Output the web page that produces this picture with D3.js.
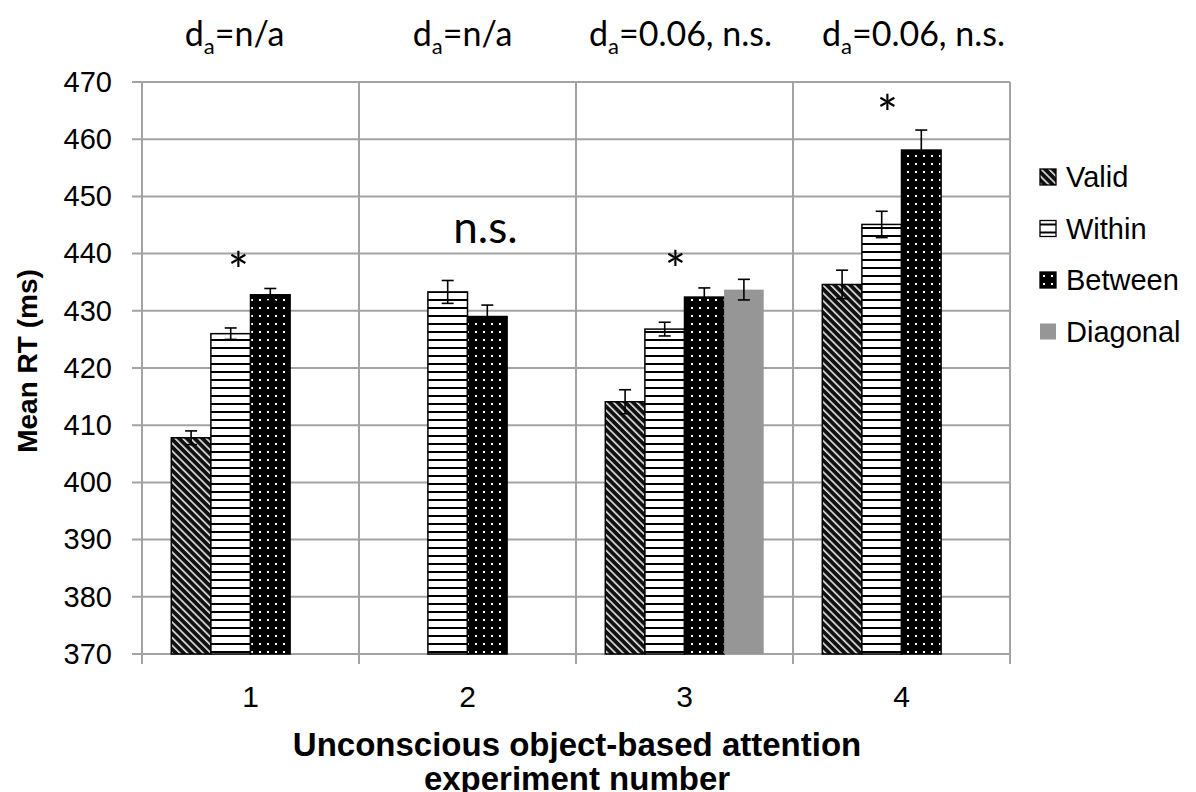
<!DOCTYPE html>
<html>
<head>
<meta charset="utf-8">
<script src="https://cdn.jsdelivr.net/npm/d3@7"></script>
<style>
  html, body { margin: 0; padding: 0; background: #fff; }
  svg { display: block; }
</style>
</head>
<body>
<svg id="chart" width="1196" height="792"></svg>
<script>
// Experiments (x categories) and conditions (series)
const experiments = ["1", "2", "3", "4"];
const conditions = ["Valid", "Within", "Between", "Diagonal"];

// Mean RT (ms) per condition, one entry per experiment (null = condition not run)
const validRT    = [407.8, null, 414.1, 434.6];
const withinRT   = [426.0, 433.3, 426.8, 445.1];
const betweenRT  = [432.8, 429.0, 432.4, 458.1];
const diagonalRT = [null, null, 433.7, null];

// Standard errors (ms)
const validErr    = [1.2, null, 2.1, 2.5];
const withinErr   = [1.0, 2.0, 1.2, 2.3];
const betweenErr  = [1.1, 2.0, 1.6, 3.5];
const diagonalErr = [null, null, 1.8, null];

// Y axis ticks
const yTicks = [370, 380, 390, 400, 410, 420, 430, 440, 450, 460, 470];

// Annotations above each experiment and significance marks (rt = text baseline on the RT scale)
const effectLabels = [
  { exp: "1", value: "n/a" },
  { exp: "2", value: "n/a" },
  { exp: "3", value: "0.06, n.s." },
  { exp: "4", value: "0.06, n.s." }
];
const sigMarks = [
  { exp: "1", text: "*", rt: 433.8 },
  { exp: "2", text: "n.s.", rt: 441.8 },
  { exp: "3", text: "*", rt: 434.0 },
  { exp: "4", text: "*", rt: 461.2 }
];

const seriesRT  = { Valid: validRT, Within: withinRT, Between: betweenRT, Diagonal: diagonalRT };
const seriesErr = { Valid: validErr, Within: withinErr, Between: betweenErr, Diagonal: diagonalErr };

const svg = d3.select("#chart");
const margin = { left: 142, right: 186, top: 82, bottom: 138 };
const W = 1196, H = 792;
const plotL = margin.left, plotR = W - margin.right, plotT = margin.top, plotB = H - margin.bottom;

const x = d3.scaleBand().domain(experiments).range([plotL, plotR]).paddingInner(0).paddingOuter(0);
const xs = d3.scaleBand().domain(conditions).range([0, x.bandwidth()]).paddingInner(0).paddingOuter(0.74);
const y = d3.scaleLinear().domain([370, 470]).range([plotB, plotT]);

const gridColor = "#a3a3a3";
const axisFont = "'Liberation Sans', Arial, sans-serif";
const calFont = "Lato, 'Open Sans', sans-serif";

// Fill patterns
const defs = svg.append("defs");
const hatch = defs.append("pattern").attr("id", "pat-valid")
  .attr("patternUnits", "userSpaceOnUse").attr("width", 5.5).attr("height", 5.5)
  .attr("patternTransform", "rotate(-45)");
hatch.append("rect").attr("width", 5.5).attr("height", 5.5).attr("fill", "#111");
hatch.append("rect").attr("x", 0).attr("width", 1.6).attr("height", 5.5).attr("fill", "#e8e8e8");

const hlines = defs.append("pattern").attr("id", "pat-within")
  .attr("patternUnits", "userSpaceOnUse").attr("width", 8).attr("height", 8);
hlines.append("rect").attr("width", 8).attr("height", 8).attr("fill", "#fff");
hlines.append("rect").attr("y", 3).attr("width", 8).attr("height", 2).attr("fill", "#000");

const dots = defs.append("pattern").attr("id", "pat-between")
  .attr("patternUnits", "userSpaceOnUse").attr("width", 8).attr("height", 8);
dots.append("rect").attr("width", 8).attr("height", 8).attr("fill", "#000");
dots.append("rect").attr("x", 3).attr("y", 3).attr("width", 2).attr("height", 2).attr("fill", "#fff");

const fills = { Valid: "url(#pat-valid)", Within: "url(#pat-within)", Between: "url(#pat-between)", Diagonal: "#969696" };
const strokes = { Valid: "#000", Within: "#000", Between: "#000", Diagonal: "none" };

// Horizontal gridlines
svg.append("g").selectAll("line").data(yTicks).join("line")
  .attr("x1", plotL - 10).attr("x2", plotR)
  .attr("y1", d => y(d)).attr("y2", d => y(d))
  .attr("stroke", gridColor).attr("stroke-width", 2);

// Vertical separators between experiments (plus right frame)
const bounds = experiments.map(e => x(e)).concat([plotR]);
svg.append("g").selectAll("line").data(bounds).join("line")
  .attr("x1", d => d).attr("x2", d => d)
  .attr("y1", plotT).attr("y2", plotB + 10)
  .attr("stroke", gridColor).attr("stroke-width", 2);

// Y axis tick labels
const yAxis = d3.axisLeft(y).tickValues(yTicks).tickSize(0).tickPadding(30);
const yG = svg.append("g").attr("transform", `translate(${plotL},0)`).call(yAxis);
yG.select(".domain").remove();
yG.selectAll("text").attr("font-family", axisFont).attr("font-size", 29).attr("fill", "#000");

// X axis labels
const xAxis = d3.axisBottom(x).tickSize(0).tickPadding(32);
const xG = svg.append("g").attr("transform", `translate(0,${plotB})`).call(xAxis);
xG.select(".domain").remove();
xG.selectAll("text").attr("font-family", axisFont).attr("font-size", 30).attr("fill", "#000");

// Bars
const barData = [];
conditions.forEach(c => experiments.forEach((e, i) => {
  if (seriesRT[c][i] != null) barData.push({ c, e, v: seriesRT[c][i], err: seriesErr[c][i] });
}));

svg.append("g").selectAll("rect").data(barData).join("rect")
  .attr("x", d => x(d.e) + xs(d.c))
  .attr("y", d => y(d.v))
  .attr("width", xs.bandwidth())
  .attr("height", d => y(370) - y(d.v))
  .attr("fill", d => fills[d.c])
  .attr("stroke", d => strokes[d.c])
  .attr("stroke-width", 1.5);

// Error bars
const eb = svg.append("g").attr("stroke", "#000").attr("stroke-width", 1.6);
barData.forEach(d => {
  const cx = x(d.e) + xs(d.c) + xs.bandwidth() / 2;
  eb.append("line").attr("x1", cx).attr("x2", cx).attr("y1", y(d.v + d.err)).attr("y2", y(d.v - d.err));
  eb.append("line").attr("x1", cx - 6).attr("x2", cx + 6).attr("y1", y(d.v + d.err)).attr("y2", y(d.v + d.err));
  eb.append("line").attr("x1", cx - 6).attr("x2", cx + 6).attr("y1", y(d.v - d.err)).attr("y2", y(d.v - d.err));
});

// Significance marks
const sigOffset = { "1": -12, "2": 18, "3": -9, "4": -14 };
svg.append("g").selectAll("text").data(sigMarks).join("text")
  .attr("x", d => x(d.exp) + x.bandwidth() / 2 + sigOffset[d.exp])
  .attr("y", d => y(d.rt))
  .attr("text-anchor", "middle")
  .attr("font-family", calFont)
  .attr("font-size", d => d.text === "*" ? 50 : 44)
  .attr("fill", "#000")
  .text(d => d.text);

// Effect size annotations above the plot
const annOffset = { "1": -16, "2": -5, "3": -4, "4": 12 };
const ann = svg.append("g").selectAll("text").data(effectLabels).join("text")
  .attr("x", d => x(d.exp) + x.bandwidth() / 2 + annOffset[d.exp])
  .attr("y", 46)
  .attr("text-anchor", "middle")
  .attr("font-family", calFont)
  .attr("font-size", 34)
  .attr("fill", "#000");
ann.append("tspan").text("d");
ann.append("tspan").attr("font-size", 22).attr("dy", 8).text("a");
ann.append("tspan").attr("dy", -8).text(d => "=" + d.value);

// Axis titles
svg.append("text")
  .attr("x", 577).attr("y", 756)
  .attr("text-anchor", "middle")
  .attr("font-family", axisFont).attr("font-weight", "bold").attr("font-size", 33)
  .text("Unconscious object-based attention");
svg.append("text")
  .attr("x", 577).attr("y", 790)
  .attr("text-anchor", "middle")
  .attr("font-family", axisFont).attr("font-weight", "bold").attr("font-size", 33)
  .text("experiment number");
svg.append("text")
  .attr("transform", `translate(37,361) rotate(-90)`)
  .attr("text-anchor", "middle")
  .attr("font-family", axisFont).attr("font-weight", "bold").attr("font-size", 28)
  .text("Mean RT (ms)");

// Legend
const legend = svg.append("g").attr("transform", "translate(1040,0)");
const lg = legend.selectAll("g").data(conditions).join("g")
  .attr("transform", (d, i) => `translate(0,${177 + i * 51.5})`);
lg.append("rect")
  .attr("x", 0).attr("y", -8).attr("width", 16).attr("height", 16)
  .attr("fill", d => fills[d])
  .attr("stroke", d => strokes[d]).attr("stroke-width", 1.3);
lg.append("text")
  .attr("x", 26).attr("y", 10)
  .attr("font-family", axisFont).attr("font-size", 29)
  .attr("fill", "#000")
  .text(d => d);
</script>
</body>
</html>
